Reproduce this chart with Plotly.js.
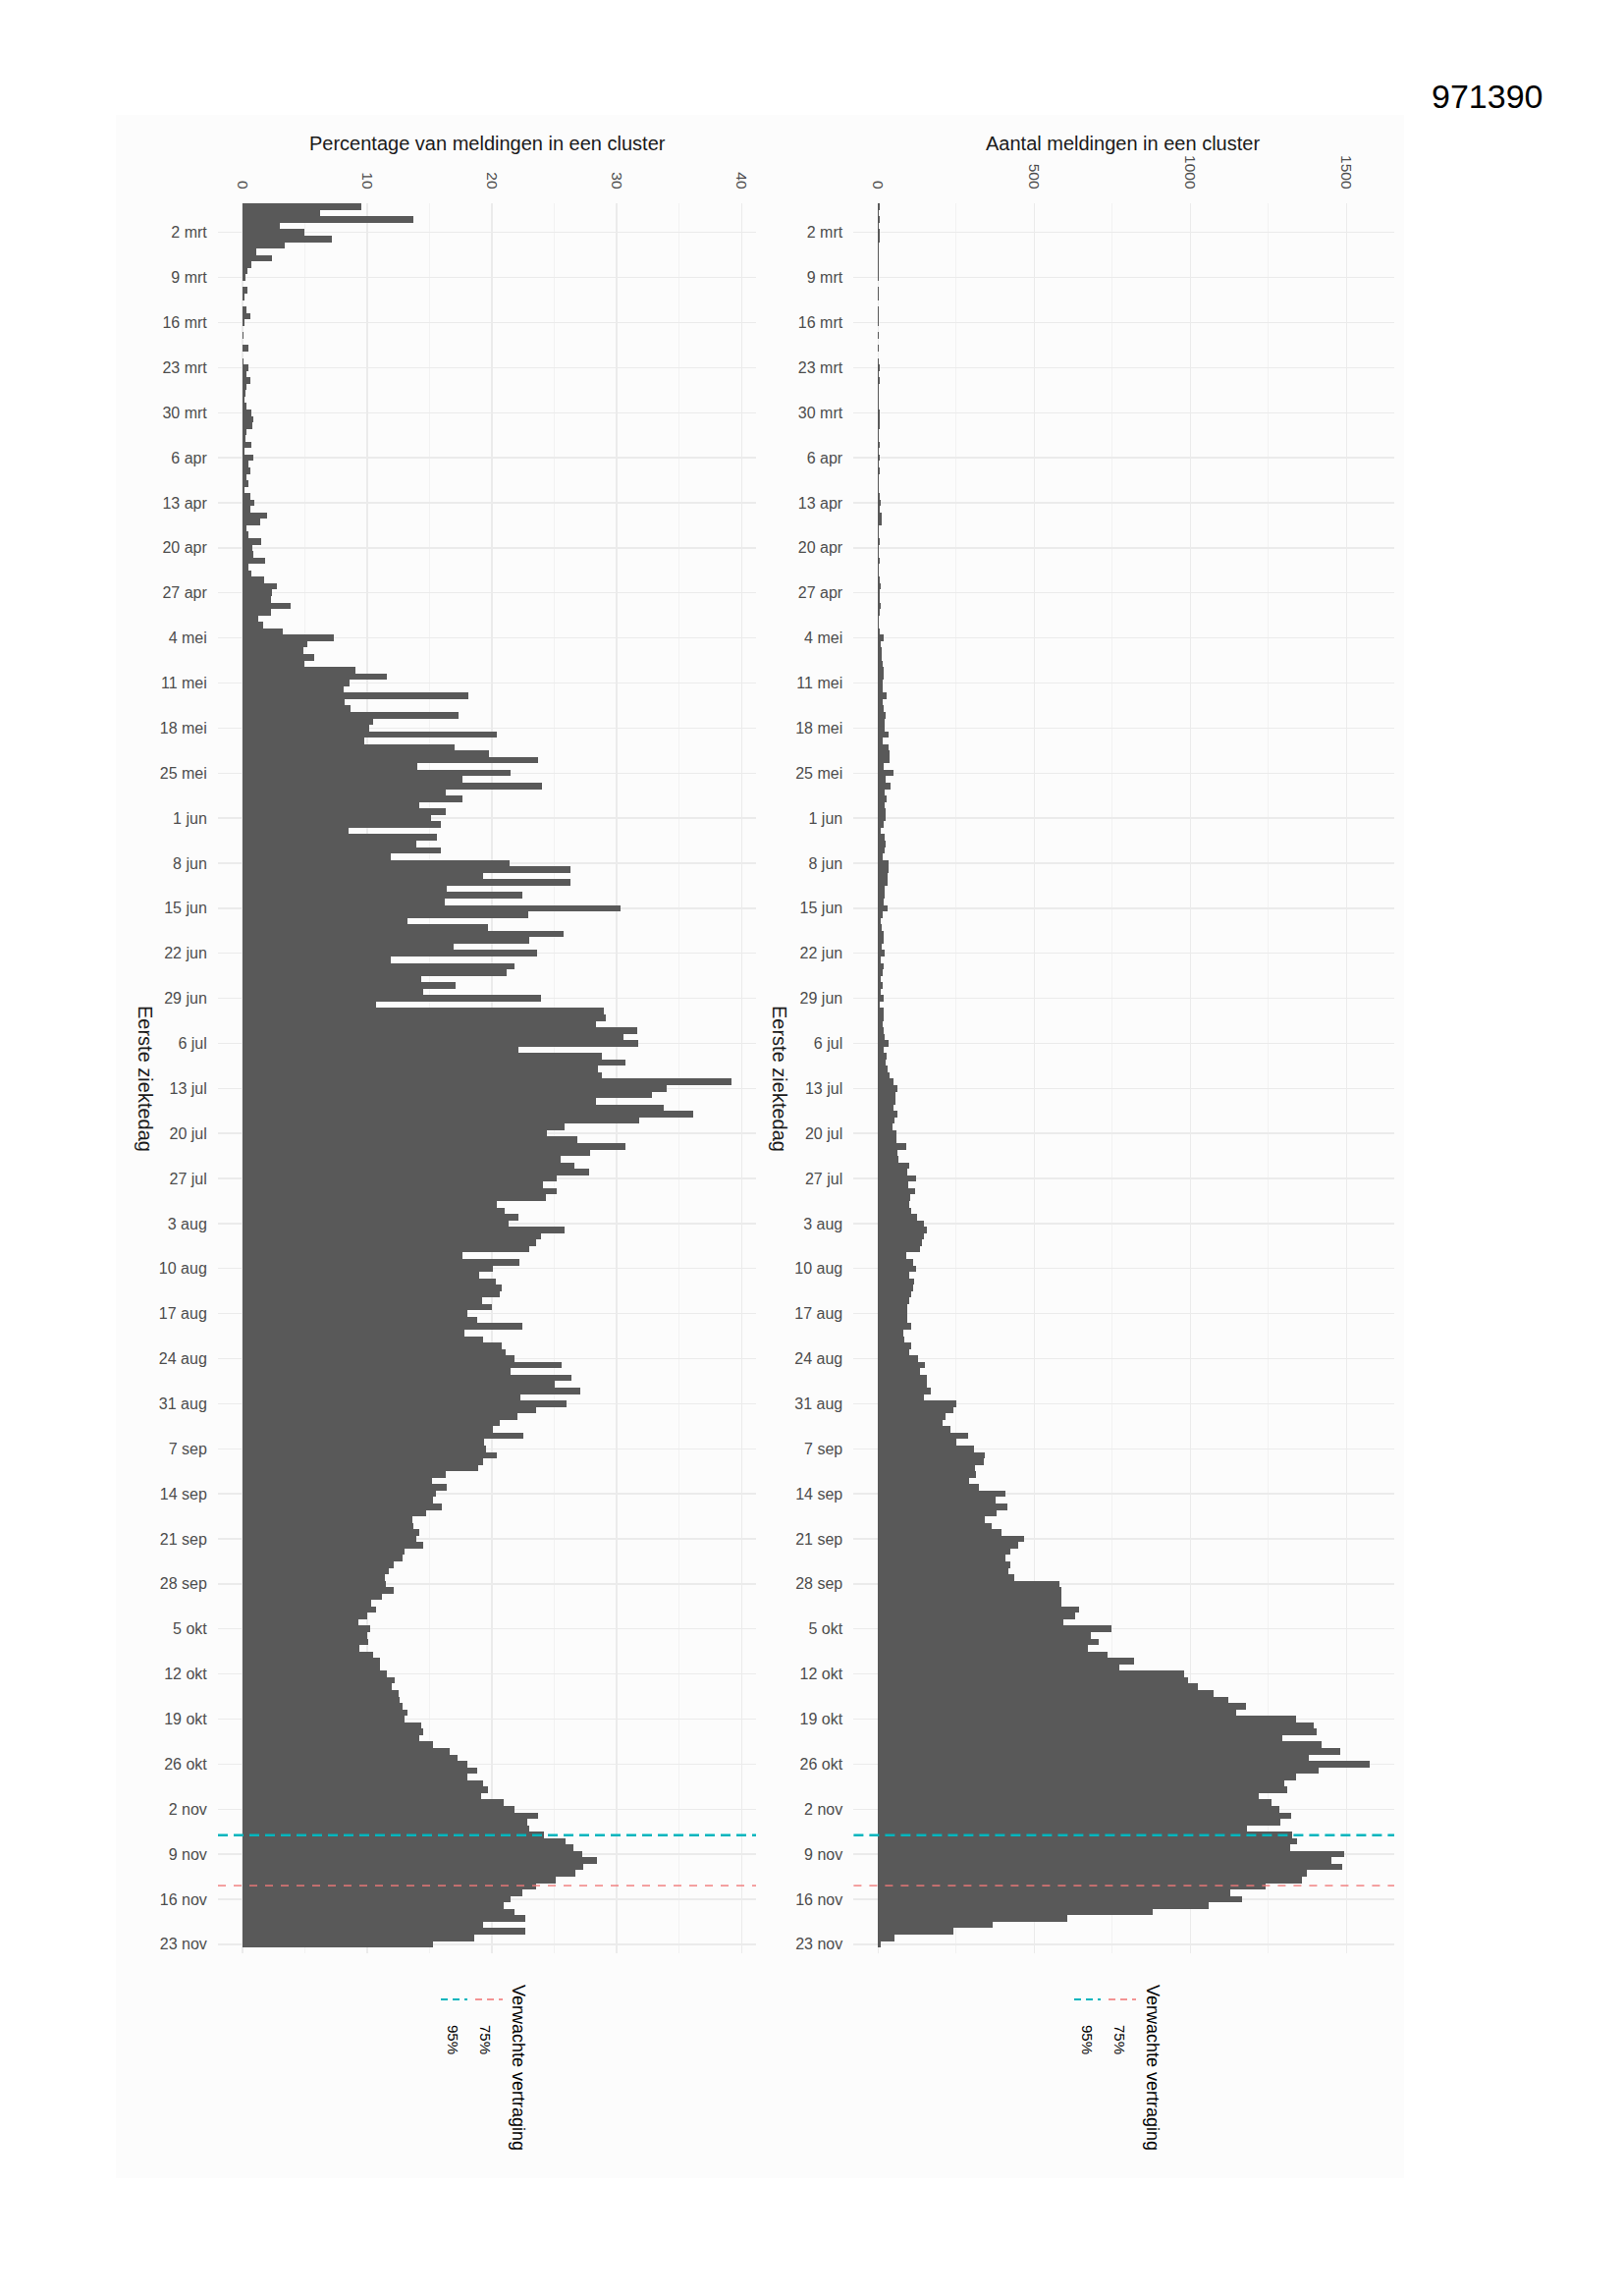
<!DOCTYPE html>
<html>
<head>
<meta charset="utf-8">
<script src="https://cdn.plot.ly/plotly-3.0.1.min.js"></script>
<style>
  html, body { margin: 0; padding: 0; background: #ffffff; }
  #chart { width: 1654px; height: 2338px; }
</style>
</head>
<body>
<div id="chart"></div>
<script>
// ---------------- DATA ----------------
// first day of illness: one bar per day, 27 feb 2020 ... 23 nov 2020 (271 days)
const firstDay = "2020-02-27";
const dayCount = 271;

// Percentage van meldingen in een cluster (per day, top to bottom)
const pctValues = [
  9.5,6.2,13.7,3.0,5.0,7.2,3.4,1.1,2.4,0.75,
  0.4,0.25,0,0.4,0.15,0,0.3,0.6,0.2,0,
  0.07,0,0.45,0,0.1,0.5,0.3,0.6,0.35,0.25,
  0.2,0.35,0.7,0.85,0.8,0.3,0.25,0.7,0.2,0.85,
  0.5,0.65,0.35,0.5,0.15,0.6,0.95,0.65,2.0,1.4,
  0.3,0.5,1.5,0.8,0.9,1.8,0.5,0.7,1.75,2.8,
  2.4,2.3,3.85,2.25,1.3,1.65,3.2,7.3,5.2,4.85,
  5.75,5.0,9.05,11.6,8.6,8.1,18.1,8.2,8.7,17.3,
  10.5,10.15,20.4,9.8,17.0,19.75,23.7,14.0,21.5,17.6,
  24.0,16.3,17.6,14.2,16.3,15.1,15.9,8.5,15.6,13.9,
  15.9,11.9,21.4,26.3,19.3,26.3,16.4,22.4,16.2,30.3,
  22.9,13.2,19.7,25.7,23.0,16.9,23.6,11.9,21.8,21.2,
  14.3,17.1,14.5,23.9,10.7,29.0,29.1,28.3,31.6,30.5,
  31.7,22.1,28.8,30.7,28.5,28.8,39.2,34.0,32.8,28.3,
  33.8,36.1,31.8,25.8,24.4,26.8,30.7,27.9,25.5,26.6,
  27.8,25.2,24.1,25.2,24.3,20.4,21.0,22.1,21.3,25.8,
  23.9,23.5,23.0,17.6,22.2,20.1,19.0,20.3,20.8,20.6,
  19.2,20.0,18.0,18.8,22.4,17.8,19.3,20.8,21.1,21.8,
  25.6,21.5,26.4,25.0,27.1,22.3,26.0,23.5,22.0,20.6,
  20.1,22.5,19.4,19.5,20.4,19.3,18.9,16.3,15.2,16.4,
  15.5,15.3,16.0,14.7,13.6,13.7,14.2,13.9,14.5,13.0,
  12.8,12.1,11.7,11.4,11.5,12.1,11.2,10.3,10.7,10.0,
  9.3,10.2,10.0,10.1,9.4,10.5,11.0,11.0,11.6,12.2,
  12.0,12.5,12.6,12.85,13.2,13.0,14.3,14.5,14.2,15.3,
  16.6,17.2,18.0,18.8,18.0,19.3,19.7,19.1,20.9,21.8,
  23.7,22.8,23.0,24.2,25.9,26.5,27.2,28.4,27.3,26.7,
  25.1,23.5,22.4,21.5,20.9,21.8,22.7,19.3,22.7,18.6,
  15.3
];

// Aantal meldingen in een cluster (per day, top to bottom)
const countValues = [
  4,3,6,2,4,5,3,2,3,1,
  1,1,0,2,1,0,2,3,1,0,
  1,0,3,0,1,4,2,5,3,2,
  2,3,5,6,5,2,2,4,1,5,
  3,4,2,3,1,4,7,5,12,10,
  2,3,5,3,3,4,2,3,6,7,
  6,5,9,5,2,3,6,19,9,10,
  11,14,17,17,14,14,27,14,17,25,
  20,22,32,15,32,35,37,17,49,25,
  41,20,27,22,24,25,19,8,22,24,
  22,14,33,33,30,31,20,20,16,30,
  15,8,11,17,16,10,21,7,19,14,
  8,13,8,17,5,19,17,14,19,22,
  32,16,28,25,30,35,48,61,56,56,
  48,62,52,47,57,59,90,61,64,99,
  92,120,96,117,103,100,107,125,146,156,
  147,141,134,91,113,120,99,115,111,107,
  99,94,92,94,105,79,85,104,98,126,
  150,133,156,156,167,146,250,242,215,207,
  232,288,249,306,341,339,310,312,292,324,
  406,376,415,380,341,363,394,467,447,422,
  406,423,418,435,579,587,587,587,644,631,
  592,746,680,707,673,736,820,773,979,992,
  1025,1074,1120,1178,1147,1337,1394,1405,1294,1419,
  1480,1378,1574,1411,1338,1301,1310,1219,1260,1286,
  1322,1289,1181,1327,1340,1318,1493,1452,1487,1373,
  1357,1241,1127,1164,1058,880,605,365,242,52,
  7
];

// weekly date ticks
const tickDates = [
  "2020-03-02","2020-03-09","2020-03-16","2020-03-23","2020-03-30",
  "2020-04-06","2020-04-13","2020-04-20","2020-04-27","2020-05-04",
  "2020-05-11","2020-05-18","2020-05-25","2020-06-01","2020-06-08",
  "2020-06-15","2020-06-22","2020-06-29","2020-07-06","2020-07-13",
  "2020-07-20","2020-07-27","2020-08-03","2020-08-10","2020-08-17",
  "2020-08-24","2020-08-31","2020-09-07","2020-09-14","2020-09-21",
  "2020-09-28","2020-10-05","2020-10-12","2020-10-19","2020-10-26",
  "2020-11-02","2020-11-09","2020-11-16","2020-11-23"
];
const tickLabels = [
  "2 mrt","9 mrt","16 mrt","23 mrt","30 mrt",
  "6 apr","13 apr","20 apr","27 apr","4 mei",
  "11 mei","18 mei","25 mei","1 jun","8 jun",
  "15 jun","22 jun","29 jun","6 jul","13 jul",
  "20 jul","27 jul","3 aug","10 aug","17 aug",
  "24 aug","31 aug","7 sep","14 sep","21 sep",
  "28 sep","5 okt","12 okt","19 okt","26 okt",
  "2 nov","9 nov","16 nov","23 nov"
];

// expected reporting delay lines
const delayLabels = ["75%", "95%"];
const delayDates  = ["2020-11-13 21:30", "2020-11-06 01:00"];
const delayColors = ["rgba(240,120,120,0.8)", "#00B5BD"];

// ---------------- BUILD ----------------
const dates = [];
(function () {
  const start = new Date(firstDay + "T00:00:00Z");
  for (let i = 0; i < dayCount; i++) {
    const d = new Date(start.getTime() + i * 86400000);
    dates.push(d.toISOString().slice(0, 10));
  }
})();

const W = 1654, H = 2338;
const px = x => x / W;
const py = y => 1 - y / H;

const FONT = "Liberation Sans, Arial, Helvetica, sans-serif";
const BAR = "#595959";
const GRID = "#ebebeb";
const GRIDMINOR = "#f1f1f1";
const TICKTXT = "#4d4d4d";

const traces = [
  {
    type: "bar", orientation: "h",
    x: pctValues, y: dates,
    xaxis: "x", yaxis: "y",
    marker: { color: BAR, line: { width: 0 } },
    hoverinfo: "skip", showlegend: false
  },
  {
    type: "bar", orientation: "h",
    x: countValues, y: dates,
    xaxis: "x2", yaxis: "y2",
    marker: { color: BAR, line: { width: 0 } },
    hoverinfo: "skip", showlegend: false
  }
];

const yRange = ["2020-11-24 09:30", "2020-02-26 11:00"];

function dateAxis(anchor) {
  return {
    anchor: anchor,
    domain: [py(1989), py(207)],
    type: "date",
    range: yRange,
    tickmode: "array",
    tickvals: tickDates,
    ticktext: tickLabels,
    ticks: "outside", ticklen: 7, tickcolor: "rgba(0,0,0,0)",
    tickfont: { family: FONT, size: 16, color: TICKTXT },
    showgrid: true, gridcolor: GRID, gridwidth: 1.4,
    zeroline: false, showline: false,
    automargin: false, fixedrange: true
  };
}

function valueAxis(anchor, domainPx, range, dtick) {
  return {
    anchor: anchor,
    domain: [px(domainPx[0]), px(domainPx[1])],
    range: range,
    side: "top",
    tickmode: "linear", tick0: 0, dtick: dtick,
    tickangle: 90,
    ticks: "outside", ticklen: 8, tickcolor: "rgba(0,0,0,0)",
    tickfont: { family: FONT, size: 15.5, color: TICKTXT },
    showgrid: true, gridcolor: GRID, gridwidth: 1.4,
    minor: { dtick: dtick / 2, showgrid: true, gridcolor: GRIDMINOR, gridwidth: 0.9, ticks: "" },
    zeroline: false, showline: false,
    automargin: false, fixedrange: true
  };
}

const shapes = [
  { type: "rect", xref: "paper", yref: "paper",
    x0: px(118), x1: px(1430), y0: py(2218), y1: py(117),
    fillcolor: "#fcfcfc", line: { width: 0 }, layer: "below" }
];

// delay lines on both panels
[["x", "y"], ["x2", "y2"]].forEach(([xa, ya]) => {
  // 75% (pink) and 95% (teal)
  shapes.push({ type: "line", xref: xa + " domain", yref: ya,
    x0: 0, x1: 1, y0: delayDates[0], y1: delayDates[0],
    line: { color: delayColors[0], width: 1.7, dash: "8px,8px" }, layer: "above" });
  shapes.push({ type: "line", xref: xa + " domain", yref: ya,
    x0: 0, x1: 1, y0: delayDates[1], y1: delayDates[1],
    line: { color: delayColors[1], width: 2.4, dash: "10px,6px" }, layer: "above" });
});

function note(text, x, y, size, angle, color) {
  return { text: text, xref: "paper", yref: "paper", x: px(x), y: py(y),
    xanchor: "center", yanchor: "middle", textangle: angle || 0, showarrow: false,
    font: { family: FONT, size: size, color: color || "#1a1a1a" } };
}

const annotations = [
  note("971390", 1514, 98, 34, 0, "#000"),
  note("Percentage van meldingen in een cluster", 496, 146, 20),
  note("Aantal meldingen in een cluster", 1143, 146, 20),
  note("Eerste ziektedag", 148, 1098, 20, 90),
  note("Eerste ziektedag", 794, 1098, 20, 90)
];

// legends (rotated, below each panel)
const legendPos = [
  { title: 528, k75: [484, 512], k95: [449, 476], l75: 495, l95: 462 },
  { title: 1174, k75: [1129, 1157], k95: [1094, 1121], l75: 1141, l95: 1108 }
];
legendPos.forEach(p => {
  annotations.push(note("Verwachte vertraging", p.title, 2105, 18, 90, "#000"));
  annotations.push(note(delayLabels[0], p.l75, 2077, 15, 90, "#000"));
  annotations.push(note(delayLabels[1], p.l95, 2077, 15, 90, "#000"));
  shapes.push({ type: "line", xref: "paper", yref: "paper",
    x0: px(p.k75[0]), x1: px(p.k75[1]), y0: py(2036), y1: py(2036),
    line: { color: delayColors[0], width: 2, dash: "7px,5px" } });
  shapes.push({ type: "line", xref: "paper", yref: "paper",
    x0: px(p.k95[0]), x1: px(p.k95[1]), y0: py(2036), y1: py(2036),
    line: { color: delayColors[1], width: 2, dash: "7px,5px" } });
});

const layout = {
  width: W, height: H,
  margin: { l: 0, r: 0, t: 0, b: 0, pad: 0 },
  paper_bgcolor: "#ffffff",
  plot_bgcolor: "rgba(0,0,0,0)",
  font: { family: FONT, color: "#1a1a1a" },
  showlegend: false,
  bargap: 0,
  barmode: "overlay",
  xaxis: valueAxis("y", [222, 770], [-1.96, 41.16], 10),
  yaxis: dateAxis("x"),
  xaxis2: valueAxis("y2", [869.4, 1420], [-78.7, 1652.7], 500),
  yaxis2: dateAxis("x2"),
  shapes: shapes,
  annotations: annotations
};

Plotly.newPlot("chart", traces, layout, { displayModeBar: false, staticPlot: true });
</script>
</body>
</html>
